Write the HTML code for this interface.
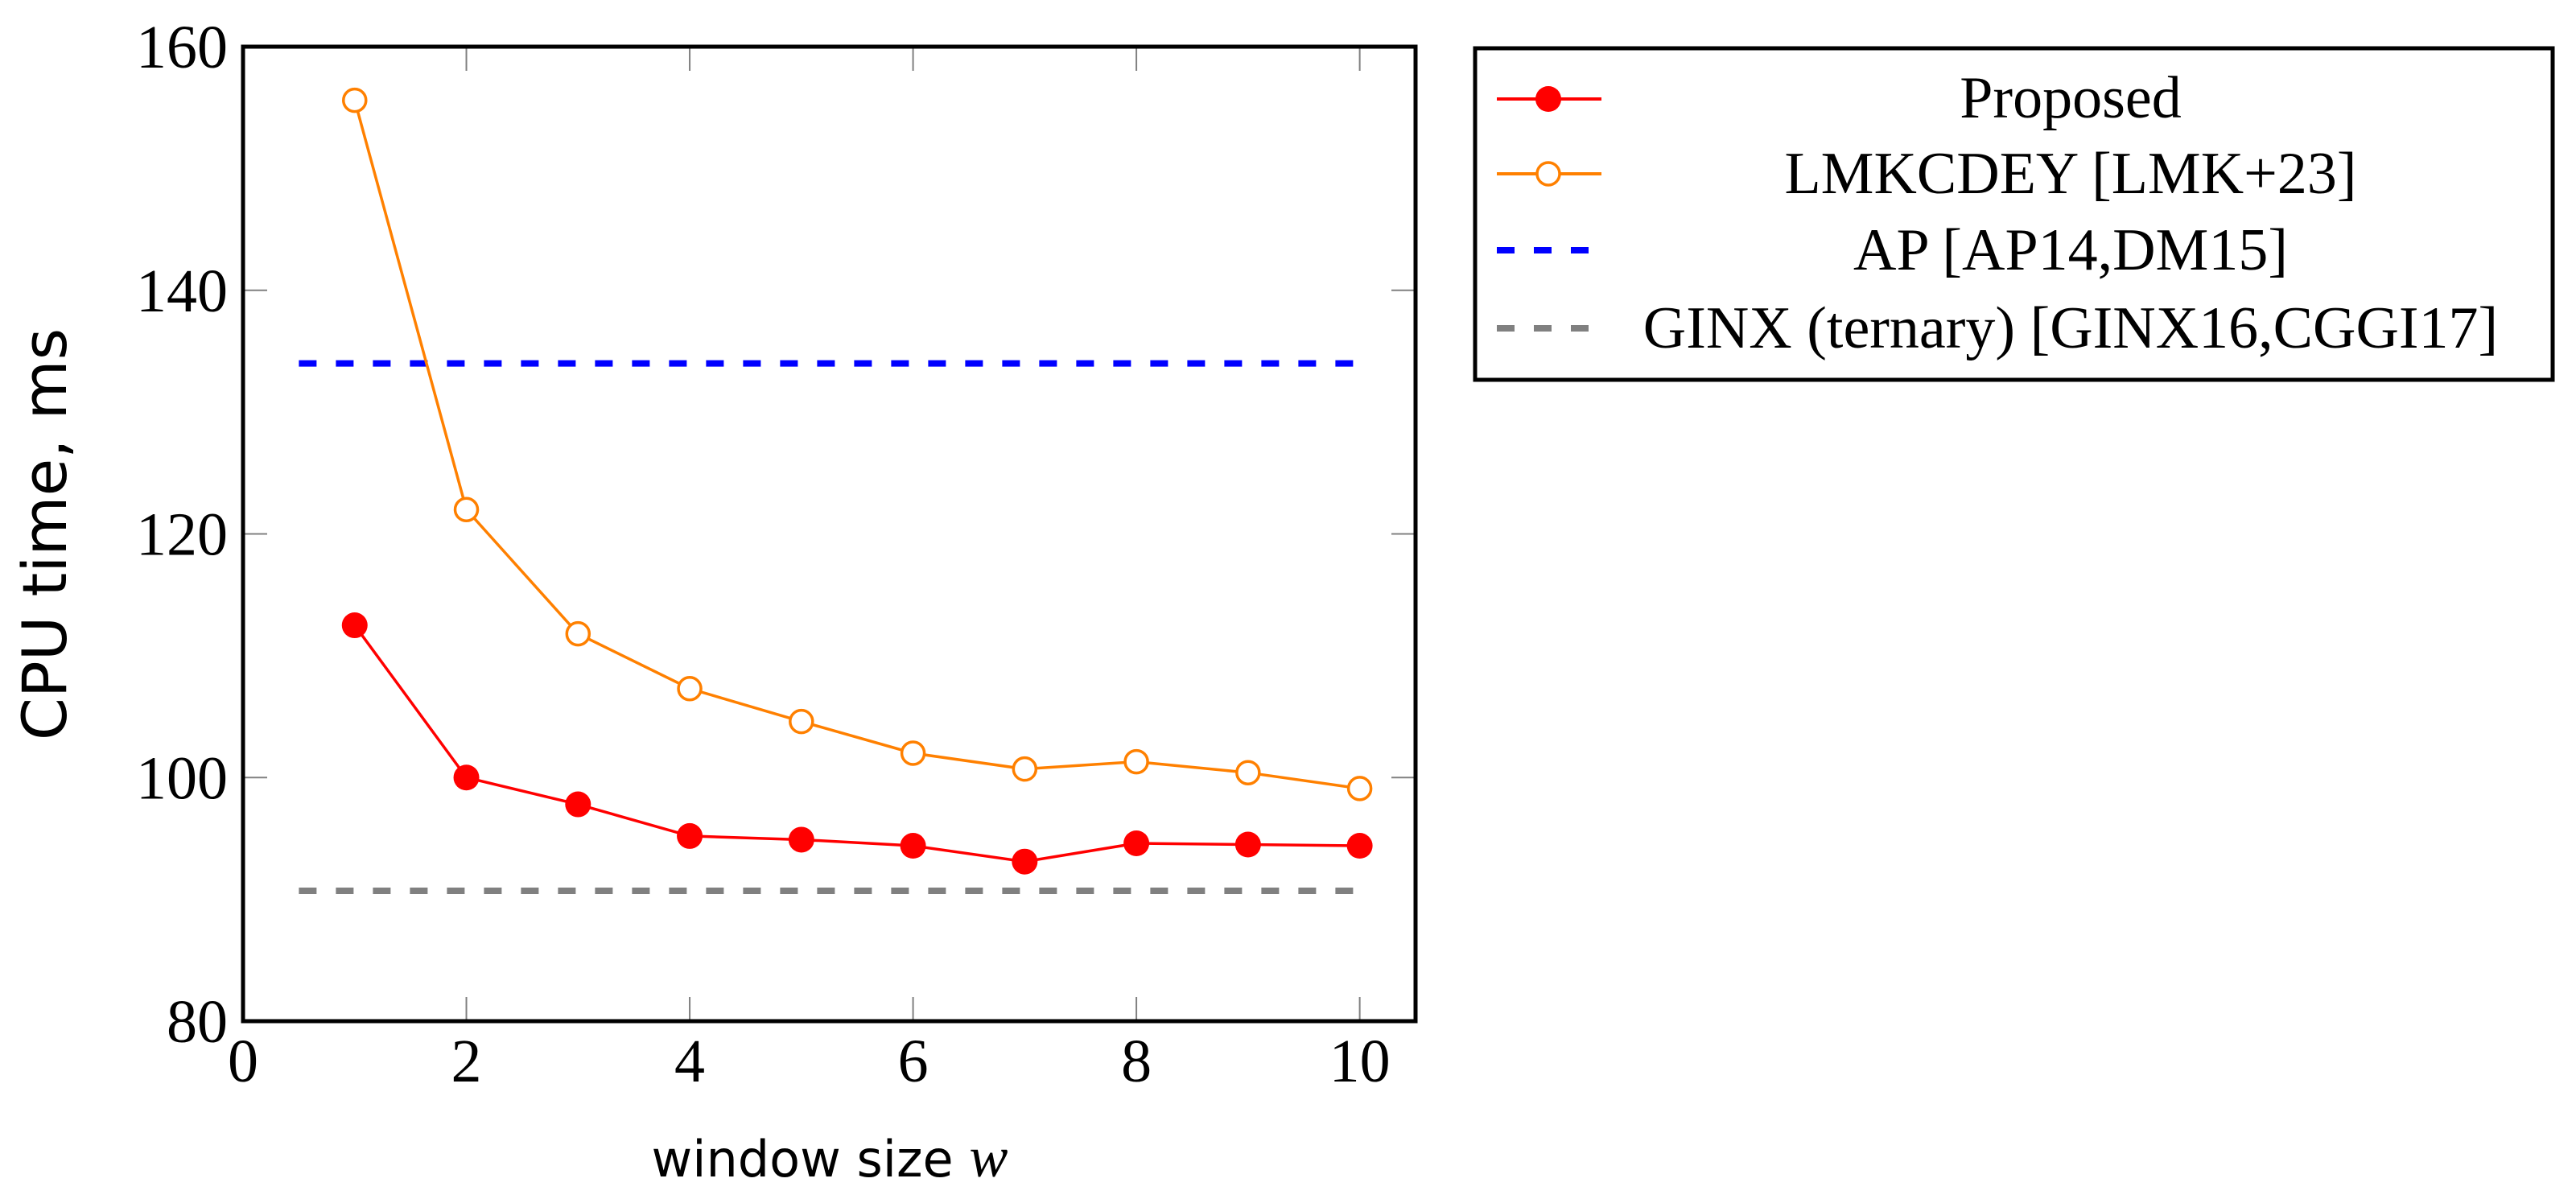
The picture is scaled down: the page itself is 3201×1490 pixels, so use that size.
<!DOCTYPE html>
<html><head><meta charset="utf-8"><style>
html,body{margin:0;padding:0;background:#fff;}
svg text{font-family:"Liberation Serif",serif;}
</style></head><body>
<svg id="chart" width="3201" height="1485" viewBox="0 0 3201 1485" xmlns="http://www.w3.org/2000/svg">
<g id="grid"></g>
<g id="series"></g>
<rect x="302" y="58" width="1457" height="1211" fill="none" stroke="#000" stroke-width="5"/>
<g id="ticks"></g>
<text x="61" y="664" transform="rotate(-90 61 664)" text-anchor="middle" dominant-baseline="middle" font-size="76" style="font-family:'DejaVu Sans',sans-serif">CPU time, ms</text>
<text x="1031" y="1462" text-anchor="middle" font-size="62" style="font-family:'DejaVu Sans',sans-serif">window size <tspan font-style="italic" style="font-family:'Liberation Serif',serif" font-size="72">w</tspan></text>
<g>
<rect x="1833" y="60" width="1339" height="412" fill="#fff" stroke="#000" stroke-width="5"/>
<g>
<line x1="1860" y1="123" x2="1990" y2="123" stroke="#f00" stroke-width="4"/>
<circle cx="1924" cy="123" r="16" fill="#f00"/>
<text x="2573" y="146" text-anchor="middle" font-size="74">Proposed</text></g>
<g>
<line x1="1860" y1="216" x2="1990" y2="216" stroke="#ff8000" stroke-width="4"/>
<circle cx="1924" cy="216" r="14" fill="#fff" stroke="#ff8000" stroke-width="3.5"/>
<text x="2573" y="240" text-anchor="middle" font-size="74">LMKCDEY [LMK+23]</text></g>
<g>
<line x1="1860" y1="311" x2="1975" y2="311" stroke="#00f" stroke-width="8" stroke-dasharray="22 24"/>
<text x="2573" y="335" text-anchor="middle" font-size="74">AP [AP14,DM15]</text></g>
<g>
<line x1="1860" y1="408" x2="1975" y2="408" stroke="#808080" stroke-width="8" stroke-dasharray="22 24"/>
<text x="2573" y="432" text-anchor="middle" font-size="74">GINX (ternary) [GINX16,CGGI17]</text></g>
</g>
</svg>
<script>
const xs = [1,2,3,4,5,6,7,8,9,10];
const proposed = [112.5,100,97.8,95.2,94.9,94.4,93.1,94.6,94.5,94.4];
const lmkcdey = [155.6,122,111.8,107.3,104.6,102,100.7,101.3,100.4,99.1];
const apValue = [134];
const ginxValue = [90.7];
const hlineRange = [0.5,10];
const xTicks = [0,2,4,6,8,10];
const yTicks = [80,100,120,140,160];
const X0=302,X1=1759,Y0=1269,Y1=58,XMIN=0,XMAX=10.5,YMIN=80,YMAX=160;
function sx(v){return X0+(v-XMIN)/(XMAX-XMIN)*(X1-X0);}
function sy(v){return Y0-(v-YMIN)/(YMAX-YMIN)*(Y0-Y1);}
const NS="http://www.w3.org/2000/svg";
function mk(tag,attrs,parent){const e=document.createElementNS(NS,tag);for(const k in attrs)e.setAttribute(k,attrs[k]);parent.appendChild(e);return e;}
const grid=document.getElementById('grid'),ticks=document.getElementById('ticks'),series=document.getElementById('series');
xTicks.forEach(t=>{
  const x=sx(t);
  if(t>XMIN){
    const a=mk('line',{x1:x,y1:Y0,x2:x,y2:Y0-30,stroke:'#808080','stroke-width':2},grid);
    
    
    const b=mk('line',{x1:x,y1:Y1,x2:x,y2:Y1+30,stroke:'#808080','stroke-width':2},grid);
    
    
  }
  const tx=mk('text',{x:x,y:1344,'text-anchor':'middle','font-size':76},ticks);
  tx.textContent=t;
  
  
});
yTicks.forEach(t=>{
  const y=sy(t);
  if(t>YMIN&&t<YMAX){
    const a=mk('line',{x1:X0,y1:y,x2:X0+30,y2:y,stroke:'#808080','stroke-width':2},grid);
    
    
    const b=mk('line',{x1:X1,y1:y,x2:X1-30,y2:y,stroke:'#808080','stroke-width':2},grid);
    
    
  }
  const ty=mk('text',{x:283,y:y+26,'text-anchor':'end','font-size':76},ticks);
  ty.textContent=t;
  
  
});
function hline(v,color,name){
  const l=mk('line',{x1:sx(hlineRange[0]),x2:sx(hlineRange[1]),y1:sy(v),y2:sy(v),stroke:color,'stroke-width':8,'stroke-dasharray':'22 24'},series);
  
  
}
hline(apValue[0],'#00f','ap-line');
hline(ginxValue[0],'#808080','ginx-line');
function poly(vals,color,name){
  const p=mk('polyline',{points:xs.map((x,i)=>sx(x)+','+sy(vals[i])).join(' '),fill:'none',stroke:color,'stroke-width':3.5},series);
  
  
}
poly(lmkcdey,'#ff8000','lmkcdey-line');
poly(proposed,'#f00','proposed-line');
xs.forEach((x,i)=>{
  const c=mk('circle',{cx:sx(x),cy:sy(lmkcdey[i]),r:14,fill:'#fff',stroke:'#ff8000','stroke-width':3.5},series);
  
  
  const d=mk('circle',{cx:sx(x),cy:sy(proposed[i]),r:16,fill:'#f00'},series);
  
  
});
</script>
</body></html>
